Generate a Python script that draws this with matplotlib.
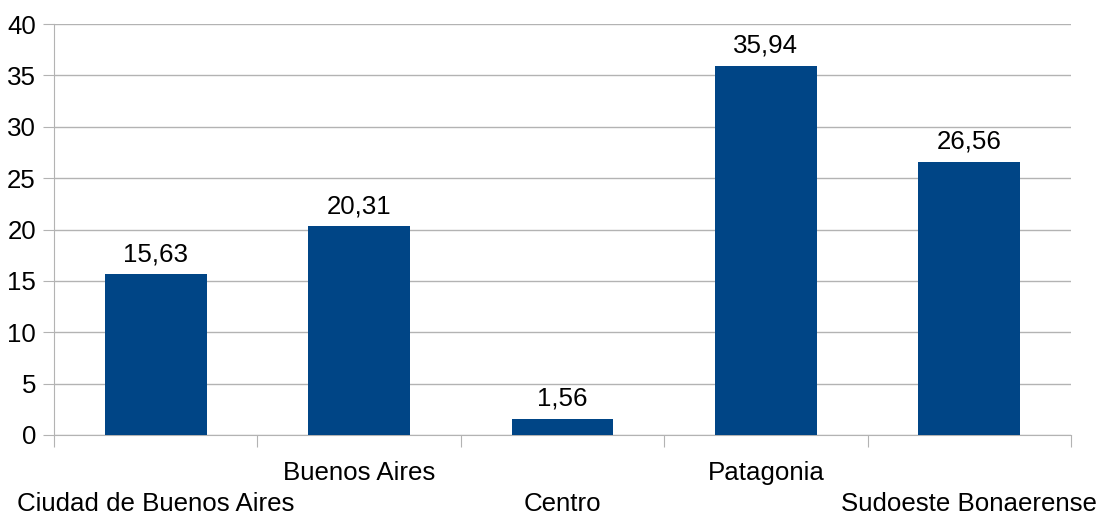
import matplotlib.pyplot as plt
import numpy as np

categories = ['Ciudad de Buenos Aires', 'Buenos Aires', 'Centro', 'Patagonia', 'Sudoeste Bonaerense']
values = [15.63, 20.31, 1.56, 35.94, 26.56]
labels = ['15,63', '20,31', '1,56', '35,94', '26,56']

plt.rcParams['font.family'] = ['Liberation Sans', 'DejaVu Sans']
FS = 18.6

fig = plt.figure(figsize=(11.01, 5.15), dpi=100)
ax = fig.add_axes([54 / 1101, 1 - 435 / 515, 1017 / 1101, 411 / 515])

x = np.arange(len(categories))
bars = ax.bar(x, values, width=0.5, color='#004586', zorder=3)
for b, lab in zip(bars, labels):
    ax.annotate(lab, (b.get_x() + b.get_width() / 2, b.get_height()),
                xytext=(0, 9.5), textcoords='offset points',
                ha='center', va='baseline', fontsize=FS)

ax.set_xlim(-0.5, len(categories) - 0.5)
ax.set_ylim(0, 40)
ax.set_yticks(range(0, 41, 5))
ax.tick_params(axis='y', labelsize=FS, length=8, color='#b3b3b3', pad=5)
ax.grid(axis='y', color='#b3b3b3', linewidth=1, zorder=0)

# category boundaries as ticks, staggered labels as text
ax.set_xticks(np.arange(-0.5, len(categories), 1))
ax.set_xticklabels([])
ax.tick_params(axis='x', length=8.5, color='#b3b3b3')
for i, c in enumerate(categories):
    off = -54.7 if i % 2 == 0 else -32.4
    ax.annotate(c, (i, 0), xytext=(0, off), textcoords='offset points',
                ha='center', va='baseline', fontsize=FS, annotation_clip=False)

for s in ['top', 'right']:
    ax.spines[s].set_visible(False)
for s in ['left', 'bottom']:
    ax.spines[s].set_color('#b3b3b3')

fig.savefig('out.png', dpi=100)
